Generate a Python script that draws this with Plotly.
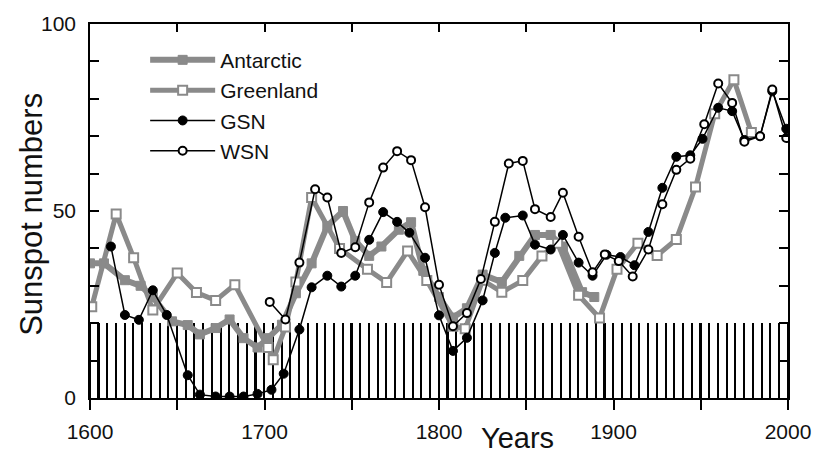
import plotly.graph_objects as go

# ---------------- data ----------------
bar_years = list(range(1600, 2001, 5))
bar_values = [20] * len(bar_years)

antarctic_years = [1600, 1608, 1620, 1629, 1636, 1647, 1656, 1663, 1672, 1680, 1688, 1696, 1702,
                   1710, 1718, 1727, 1736, 1745, 1752, 1760, 1767, 1777, 1784, 1791, 1800, 1808,
                   1816, 1825, 1836, 1846, 1855, 1864, 1871, 1882, 1889]
antarctic_values = [36, 36, 31.5, 30, 27, 20.5, 19.5, 17, 18.7, 21, 16, 13.5, 16,
                    19.6, 28, 36, 46, 50, 42, 38, 40.5, 45, 47, 34, 27, 21.5,
                    24, 33, 31, 38, 43.6, 43.6, 40.5, 28.3, 27]

greenland_years = [1601, 1615, 1625, 1636, 1650, 1661, 1672, 1683, 1702, 1705, 1712, 1718, 1727,
                   1743, 1759, 1770, 1782, 1793, 1808, 1815, 1825, 1836, 1848, 1859, 1868, 1880,
                   1892, 1902, 1914, 1925, 1936, 1947, 1958, 1969, 1979]
greenland_values = [24.4, 49.2, 37.5, 23.5, 33.4, 28.2, 26.1, 30.3, 13.5, 10.2, 19, 31, 53.6,
                    40, 34.4, 30.9, 39.3, 31.4, 19.2, 18.5, 31.5, 28.3, 31.4, 38, 41.4, 27.5,
                    21.4, 34.4, 41.4, 38.1, 42.4, 56.4, 76, 85.1, 71]

gsn_years = [1612, 1620, 1628, 1636, 1644, 1656, 1663, 1672, 1680, 1688, 1696, 1704, 1711, 1720,
             1727, 1736, 1744, 1752, 1760, 1768, 1776, 1783, 1792, 1800, 1808, 1816, 1825, 1832,
             1838, 1848, 1855, 1864, 1871, 1880, 1888, 1896, 1904, 1912, 1920, 1928, 1936, 1944,
             1951, 1960, 1968, 1975, 1984, 1991, 1999]
gsn_values = [40.5, 22.2, 20.9, 28.8, 22.2, 6.1, 0.9, 0.4, 0.4, 0.4, 1.1, 2.2, 6.5, 18.3,
              29.6, 32.7, 29.8, 32.7, 42.3, 49.7, 47.1, 44.2, 37.5, 22.1, 12.6, 16.1, 26.1, 38.8,
              48.2, 48.8, 41, 39.7, 43.6, 36.2, 32.7, 38.3, 37.7, 35.5, 44.4, 56.2, 64.5, 64.9,
              69.3, 77.6, 76.7, 69, 70, 82, 72]

wsn_years = [1703, 1712, 1720, 1729, 1736, 1744, 1752, 1760, 1768, 1776, 1784, 1792, 1800, 1808,
             1816, 1824, 1832, 1840, 1848, 1855, 1864, 1871, 1880, 1888, 1895, 1903, 1911, 1920,
             1928, 1936, 1944, 1952, 1960, 1968, 1975, 1984, 1991, 1999]
wsn_values = [25.7, 21, 36.2, 55.8, 53.6, 38.8, 40.3, 52.3, 61.6, 66, 63.6, 51, 30.3, 19.2,
              22.7, 31.8, 47.1, 62.7, 63.4, 50.5, 48.4, 54.9, 43.1, 33.6, 38.4, 36.6, 32.5, 39.7,
              51.8, 61, 64, 73.2, 84.1, 78.9, 68.5, 70, 82.5, 69.5]

x_major = [1600, 1700, 1800, 1900, 2000]
x_tickvals = list(range(1600, 2001, 50))
y_tickvals = list(range(0, 101, 10))
y_labels = {0: "0", 50: "50", 100: "100"}

# ---------------- figure ----------------
FONT = "Liberation Sans, Arial, Helvetica, sans-serif"
GREY = "#8a8a8a"

fig = go.Figure()

fig.add_trace(go.Bar(x=bar_years, y=bar_values, width=0.9, marker=dict(color="black", line=dict(width=0)),
                     showlegend=False, hoverinfo="skip"))

fig.add_trace(go.Scatter(x=antarctic_years, y=antarctic_values, name="Antarctic", mode="lines+markers",
                         line=dict(color=GREY, width=6),
                         marker=dict(symbol="square", size=9, color=GREY, line=dict(color=GREY, width=1))))
fig.add_trace(go.Scatter(x=greenland_years, y=greenland_values, name="Greenland", mode="lines+markers",
                         line=dict(color=GREY, width=5),
                         marker=dict(symbol="square", size=9, color="white", line=dict(color=GREY, width=2))))
fig.add_trace(go.Scatter(x=gsn_years, y=gsn_values, name="GSN", mode="lines+markers",
                         line=dict(color="black", width=1.5),
                         marker=dict(symbol="circle", size=9, color="black", line=dict(color="black", width=1))))
fig.add_trace(go.Scatter(x=wsn_years, y=wsn_values, name="WSN", mode="lines+markers",
                         line=dict(color="black", width=1.5),
                         marker=dict(symbol="circle", size=8, color="white", line=dict(color="black", width=2))))

# invisible trace to carry the top axis
fig.add_trace(go.Scatter(x=[1600], y=[None], xaxis="x2", yaxis="y", showlegend=False, hoverinfo="skip"))

fig.update_layout(
    width=823, height=455,
    margin=dict(l=90, r=28, t=22, b=50),
    paper_bgcolor="white", plot_bgcolor="white",
    font=dict(family=FONT, size=21, color="#111"),
    bargap=0,
    xaxis=dict(range=[1600, 2000], tickvals=x_tickvals,
               ticktext=[str(v) if v in x_major else "" for v in x_tickvals],
               ticks="outside", ticklen=10, tickwidth=1.5, tickcolor="black",
               showline=True, linecolor="black", linewidth=1.5, mirror=True,
               showgrid=False, zeroline=False, ticklabelstandoff=4),
    xaxis2=dict(overlaying="x", side="top", matches="x", range=[1600, 2000], tickvals=x_tickvals,
                ticks="inside", ticklen=8, tickwidth=1.5, tickcolor="black",
                showticklabels=False, showline=False, showgrid=False, zeroline=False),
    yaxis=dict(range=[0, 100], tickvals=y_tickvals,
               ticktext=[y_labels.get(v, "") for v in y_tickvals],
               ticks="inside", ticklen=9, tickwidth=1.5, tickcolor="black",
               showline=True, linecolor="black", linewidth=1.5, mirror="ticks",
               showgrid=False, zeroline=False, ticklabelstandoff=8),
    legend=dict(x=0.079, y=0.958, xanchor="left", yanchor="top", bgcolor="rgba(0,0,0,0)",
                font=dict(family=FONT, size=21, color="#111"), itemwidth=65, tracegroupgap=0),
    annotations=[
        dict(text="Years", xref="paper", yref="paper", x=0.612, y=-0.108, xanchor="center",
             yanchor="middle", showarrow=False, font=dict(family=FONT, size=29, color="#111")),
        dict(text="Sunspot numbers", xref="paper", yref="paper", x=-0.083, y=0.49, xanchor="center",
             yanchor="middle", textangle=-90, showarrow=False, font=dict(family=FONT, size=31, color="#111")),
    ],
)

fig.write_html("out.html")
